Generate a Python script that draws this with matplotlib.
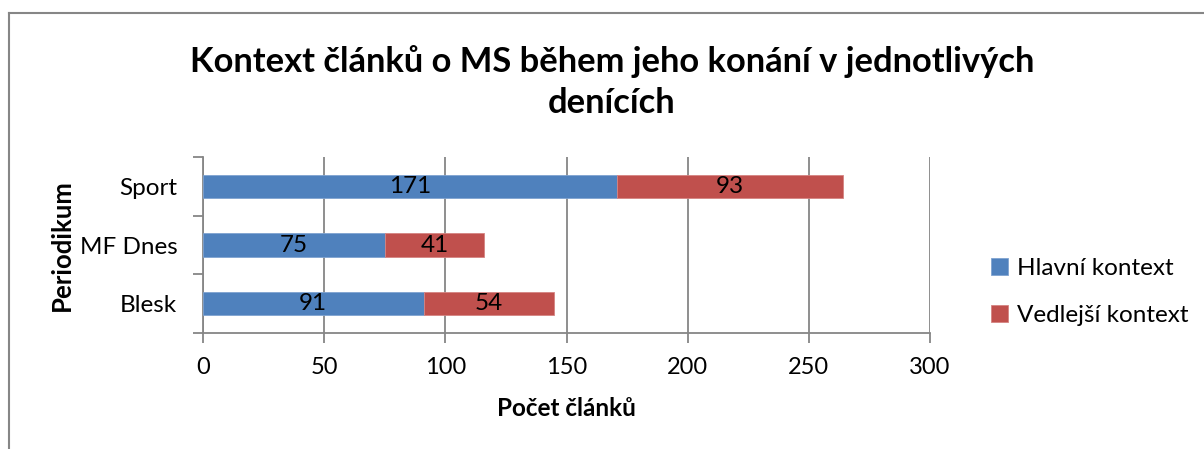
import matplotlib
matplotlib.use("Agg")
import matplotlib.pyplot as plt
from matplotlib.lines import Line2D
import numpy as np

plt.rcParams['font.family'] = ['Lato', 'DejaVu Sans']

categories = ["Blesk", "MF Dnes", "Sport"]
hlavni = [91, 75, 171]
vedlejsi = [54, 41, 93]
series_names = ["Hlavní kontext", "Vedlejší kontext"]
xticks = [0, 50, 100, 150, 200, 250, 300]
title = "Kontext článků o MS během jeho konání v jednotlivých\ndenících"
xlabel = "Počet článků"
ylabel = "Periodikum"

blue = "#4F81BD"
red = "#C0504D"
grid_c = "#868686"

fig = plt.figure(figsize=(12.04, 4.49), dpi=100)
ax = fig.add_axes([203/1204, 1-333/449, (930-203)/1204, (333-157)/449])

y = np.arange(len(categories))
b1 = ax.barh(y, hlavni, height=0.4, color=blue, edgecolor="#7FA3D0", linewidth=0.6, label=series_names[0], zorder=3)
b2 = ax.barh(y, vedlejsi, left=hlavni, height=0.4, color=red, edgecolor="#D58482", linewidth=0.6, label=series_names[1], zorder=3)

for vals, lefts in [(hlavni, [0]*3), (vedlejsi, hlavni)]:
    for yi, v, l in zip(y, vals, lefts):
        ax.text(l + v/2, yi, str(v), ha="center", va="center", fontsize=17.5, color="black", zorder=4)

ax.set_xlim(0, 300)
ax.set_ylim(-0.5, 2.5)
ax.set_xticks(xticks)
ax.set_xticklabels([str(t) for t in xticks], fontsize=17)
ax.xaxis.grid(True, color=grid_c, linewidth=1.3, zorder=0)
ax.set_yticks([-0.5, 0.5, 1.5, 2.5])
ax.set_yticklabels([])
ax.set_yticks(y, minor=True)
ax.set_yticklabels(categories, minor=True, fontsize=17.5)
ax.tick_params(axis="y", which="minor", length=0, pad=18.5)
ax.tick_params(axis="y", which="major", length=7, color=grid_c, width=1.3)
ax.tick_params(axis="x", length=7, color=grid_c, width=1.3, pad=10)
for s in ["top", "right"]:
    ax.spines[s].set_visible(False)
for s in ["left", "bottom"]:
    ax.spines[s].set_color(grid_c)
    ax.spines[s].set_linewidth(1.3)

fig.text(566/1204, 1-408/449, xlabel, ha="center", va="center", fontsize=17.5, fontweight="bold")
fig.text(62/1204, 1-245/449, ylabel, ha="center", va="center", fontsize=18.5, fontweight="bold", rotation=90)

fig.text(612/1204, 1-82/449, title, ha="center", va="center", fontsize=24.8, fontweight="bold", linespacing=1.38)

leg = fig.legend(handles=[b1, b2], loc="center left", bbox_to_anchor=(991/1204, 1-292/449),
                 frameon=False, fontsize=17.5, handlelength=0.7, handleheight=0.7,
                 labelspacing=1.1, handletextpad=0.35, borderpad=0, borderaxespad=0)

fig.add_artist(Line2D([8.5/1204, 8.5/1204], [0, 1-12.5/449], color=grid_c, linewidth=1.5))
fig.add_artist(Line2D([8.5/1204, 1203/1204], [1-12.5/449, 1-12.5/449], color=grid_c, linewidth=1.5))

fig.savefig("out.png", dpi=100)
